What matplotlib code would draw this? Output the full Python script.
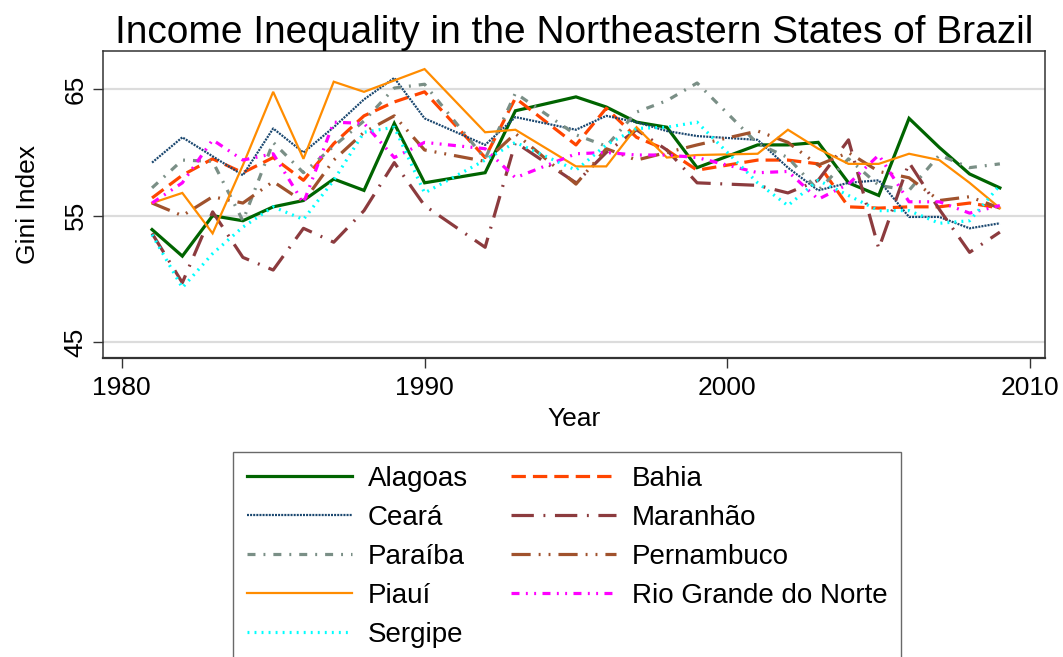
import matplotlib
matplotlib.use("Agg")
import matplotlib.pyplot as plt

plt.rcParams['font.family'] = ['Liberation Sans', 'DejaVu Sans']

years = [1981, 1982, 1983, 1984, 1985, 1986, 1987, 1988, 1989, 1990, 1992, 1993,
         1995, 1996, 1997, 1998, 1999, 2001, 2002, 2003, 2004, 2005, 2006, 2007, 2008, 2009]

alagoas = [53.9, 51.8, 55.0, 54.6, 55.7, 56.2, 57.9, 57.0, 62.3, 57.6, 58.4, 63.3,
           64.4, 63.6, 62.4, 62.0, 58.8, 60.6, 60.6, 60.8, 57.6, 56.6, 62.7, 60.4, 58.3, 57.2]
bahia = [56.4, 58.2, 59.5, 58.4, 59.6, 57.8, 60.7, 62.9, 64.0, 64.8, 59.6, 64.3,
         60.6, 63.5, 61.2, 60.2, 58.6, 59.4, 59.4, 59.1, 55.7, 55.6, 55.7, 55.7, 56.0, 55.6]
ceara = [59.2, 61.2, 59.7, 58.2, 61.9, 60.0, 62.0, 64.2, 65.9, 62.7, 60.6, 62.8,
         61.8, 62.9, 62.4, 61.7, 61.3, 61.0, 58.8, 57.0, 57.6, 57.8, 54.9, 54.9, 54.0, 54.4]
maranhao = [53.6, 49.7, 55.3, 51.7, 50.7, 54.0, 52.9, 55.4, 59.2, 55.8, 52.5, 60.8,
            57.6, 60.0, 61.8, 60.2, 57.6, 57.4, 56.8, 57.8, 61.0, 52.4, 59.2, 55.5, 52.1, 53.7]
paraiba = [57.2, 59.4, 59.3, 54.6, 60.8, 58.4, 60.5, 62.5, 65.1, 65.4, 59.5, 64.7,
           61.4, 60.5, 63.2, 64.1, 65.5, 60.7, 59.6, 57.0, 59.5, 57.4, 57.0, 59.8, 58.8, 59.1]
pernambuco = [56.0, 55.0, 56.5, 56.0, 57.7, 56.1, 59.4, 61.6, 62.9, 60.2, 59.3, 61.5,
              57.5, 60.3, 59.4, 60.0, 60.6, 61.7, 60.8, 59.0, 60.0, 58.5, 58.0, 56.2, 56.5, 55.6]
piaui = [56.0, 56.8, 53.6, 59.0, 64.8, 59.5, 65.6, 64.8, 65.7, 66.6, 61.6, 61.8,
         58.9, 58.9, 62.0, 59.6, 59.8, 59.9, 61.8, 60.3, 59.1, 59.1, 59.9, 59.4, 57.6, 55.6]
rgn = [56.0, 57.6, 61.0, 59.4, 59.9, 56.0, 62.4, 62.3, 59.6, 60.8, 60.3, 58.0,
       59.9, 60.0, 59.8, 59.8, 59.6, 58.4, 58.5, 56.3, 57.5, 59.8, 56.1, 56.1, 55.2, 55.8]
sergipe = [53.5, 49.3, 52.0, 54.1, 55.7, 54.7, 57.8, 61.6, 62.0, 56.8, 59.4, 60.8,
           58.6, 60.6, 61.9, 62.0, 62.4, 57.6, 55.8, 57.8, 56.6, 55.4, 55.4, 54.4, 54.6, 57.4]

series = [
    ("Alagoas", alagoas, "#006400", 2.3, "-"),
    ("Bahia", bahia, "#FF4500", 2.3, (0, (4.5, 2.2))),
    ("Ceará", ceara, "#1A476F", 1.6, (0, (0.9, 0.5))),
    ("Maranhão", maranhao, "#8C3B3E", 2.3, (0, (7, 3, 0.6, 3))),
    ("Paraíba", paraiba, "#7A8F86", 2.3, (0, (2.5, 2.5, 0.6, 2.5))),
    ("Pernambuco", pernambuco, "#A0522D", 2.3, (0, (6, 2.5, 0.6, 2.5, 0.6, 2.5))),
    ("Piauí", piaui, "#FF8C00", 1.6, "-"),
    ("Rio Grande do Norte", rgn, "#FF00FF", 2.3, (0, (2.5, 2, 0.6, 2, 0.6, 2))),
    ("Sergipe", sergipe, "#00FFFF", 2.3, (0, (0.6, 1.6))),
]

fig = plt.figure(figsize=(10.63, 6.57), dpi=100)
ax = fig.add_axes([103 / 1063, 1 - 358 / 657, (1045 - 103) / 1063, (358 - 51) / 657])

for y in [45, 55, 65]:
    ax.axhline(y, color="#DCDCDC", lw=1.6, zorder=0)

handles = {}
for name, vals, color, lw, ls in series:
    (h,) = ax.plot(years, vals, color=color, lw=lw, linestyle=ls, label=name,
                   solid_joinstyle="miter", dash_capstyle="butt")
    handles[name] = h

ax.set_xlim(1979.38, 2010.49)
ax.set_ylim(43.74, 68.03)
ax.set_xticks([1980, 1990, 2000, 2010])
ax.set_yticks([45, 55, 65])
ax.tick_params(axis="both", direction="out", length=7, width=1, labelsize=19, color="#333333")
for lab in ax.get_yticklabels():
    lab.set_rotation(90)
    lab.set_va("center")
ax.tick_params(axis="y", pad=4)
ax.tick_params(axis="x", pad=6)
for s in ax.spines.values():
    s.set_color("#333333")
    s.set_linewidth(1.1)
ax.spines["bottom"].set_linewidth(1.6)

ax.set_xlabel("Year", fontsize=19, labelpad=5)
ax.set_ylabel("Gini Index", fontsize=19, labelpad=17)
ax.set_title("Income Inequality in the Northeastern States of Brazil", fontsize=28, pad=6)

order = ["Alagoas", "Ceará", "Paraíba", "Piauí", "Sergipe",
         "Bahia", "Maranhão", "Pernambuco", "Rio Grande do Norte"]
leg = fig.legend([handles[n] for n in order], order, ncol=2, loc="upper left",
                 bbox_to_anchor=(233 / 1063, 1 - 452 / 657), fontsize=20,
                 frameon=True, fancybox=False, edgecolor="#444444",
                 handlelength=3.8, handletextpad=0.55, columnspacing=1.55,
                 labelspacing=0.47, borderpad=0.5, borderaxespad=0)
leg.get_frame().set_linewidth(1.0)

fig.savefig("out.png", dpi=100)
